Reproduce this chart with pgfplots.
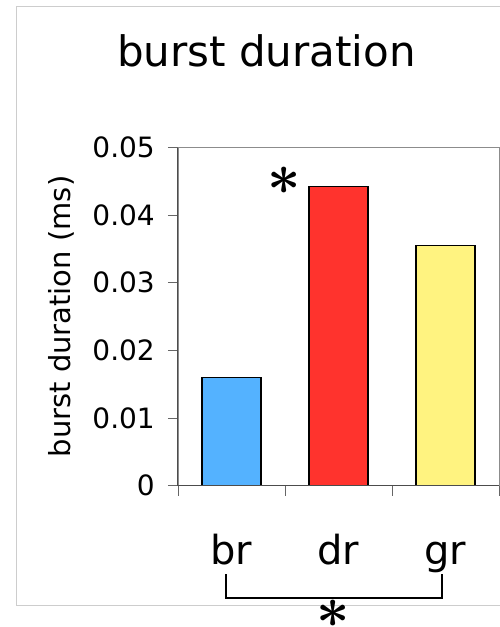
\documentclass[border=0pt]{standalone}
\usepackage{bm}
\usepackage{pgfplots}
\pgfplotsset{compat=1.18}
\usepackage{fontspec}
\setmainfont{DejaVu Sans}
\definecolor{barblue}{RGB}{84,178,255}
\definecolor{barred}{RGB}{255,51,45}
\definecolor{baryellow}{RGB}{255,243,128}
\definecolor{framegray}{RGB}{205,205,205}
\newcommand{\bigast}{\scalebox{5.8}{$\bm{\ast}$}}
\begin{document}
\begin{tikzpicture}
\useasboundingbox (0,0) rectangle (500pt,-627pt);
% outer light frame
\draw[framegray, line width=0.8pt] (16pt,-605pt) -- (16pt,-6pt) -- (500pt,-6pt);
\draw[framegray, line width=0.8pt] (16pt,-605pt) -- (500pt,-605pt);
\begin{axis}[
  at={(178pt,-485.5pt)}, anchor=south west,
  scale only axis, width=321pt, height=338pt,
  xmin=-0.5, xmax=2.5, ymin=0, ymax=0.05,
  axis line style={draw=black!45, line width=0.8pt},
  tick align=outside, major tick length=10pt, tick pos=left,
  tick style={draw=black!60, line width=0.8pt},
  xtick={-0.5,0.5,1.5,2.5}, xticklabels={},
  extra x ticks={0,1,2}, extra x tick labels={br,dr,gr},
  extra x tick style={major tick length=0pt,
    tick label style={anchor=base, yshift=-78.5pt, inner sep=0pt, font=\fontsize{40}{40}\selectfont}},
  scaled y ticks=false,
  ytick={0,0.01,0.02,0.03,0.04,0.05},
  yticklabels={0,0.01,0.02,0.03,0.04,0.05},
  yticklabel style={font=\fontsize{28}{28}\selectfont, anchor=east, inner sep=0pt, xshift=-13pt},
  /pgf/number format/assume math mode=true,
  ylabel={burst duration (ms)},
  ylabel style={at={(rel axis cs:0,0.5)}, anchor=center, rotate=0, yshift=117pt, font=\fontsize{29}{29}\selectfont},
  title={burst duration},
  title style={at={(rel axis cs:0.5,1)}, anchor=base, xshift=-72pt, yshift=75.5pt, font=\fontsize{42}{42}\selectfont},
  clip=false,
]
\addplot[ybar, bar width=59pt, fill=barblue, draw=black, line width=1.4pt] coordinates {(0,0.0160)};
\addplot[ybar, bar width=59pt, fill=barred, draw=black, line width=1.4pt] coordinates {(1,0.0442)};
\addplot[ybar, bar width=59pt, fill=baryellow, draw=black, line width=1.4pt] coordinates {(2,0.0355)};
\draw[black!70, line width=1pt] (rel axis cs:0,1) -- (rel axis cs:0,0) -- (rel axis cs:1,0);
\node[inner sep=0pt] at (axis cs:0.495,0.0451) {\bigast};
\end{axis}
% significance bracket
\draw[black, line width=1.3pt] (226pt,-574pt) -- (226pt,-598pt) -- (442pt,-598pt) -- (442pt,-574pt);
\node[inner sep=0pt] at (333pt,-613.5pt) {\bigast};
\end{tikzpicture}
\end{document}
